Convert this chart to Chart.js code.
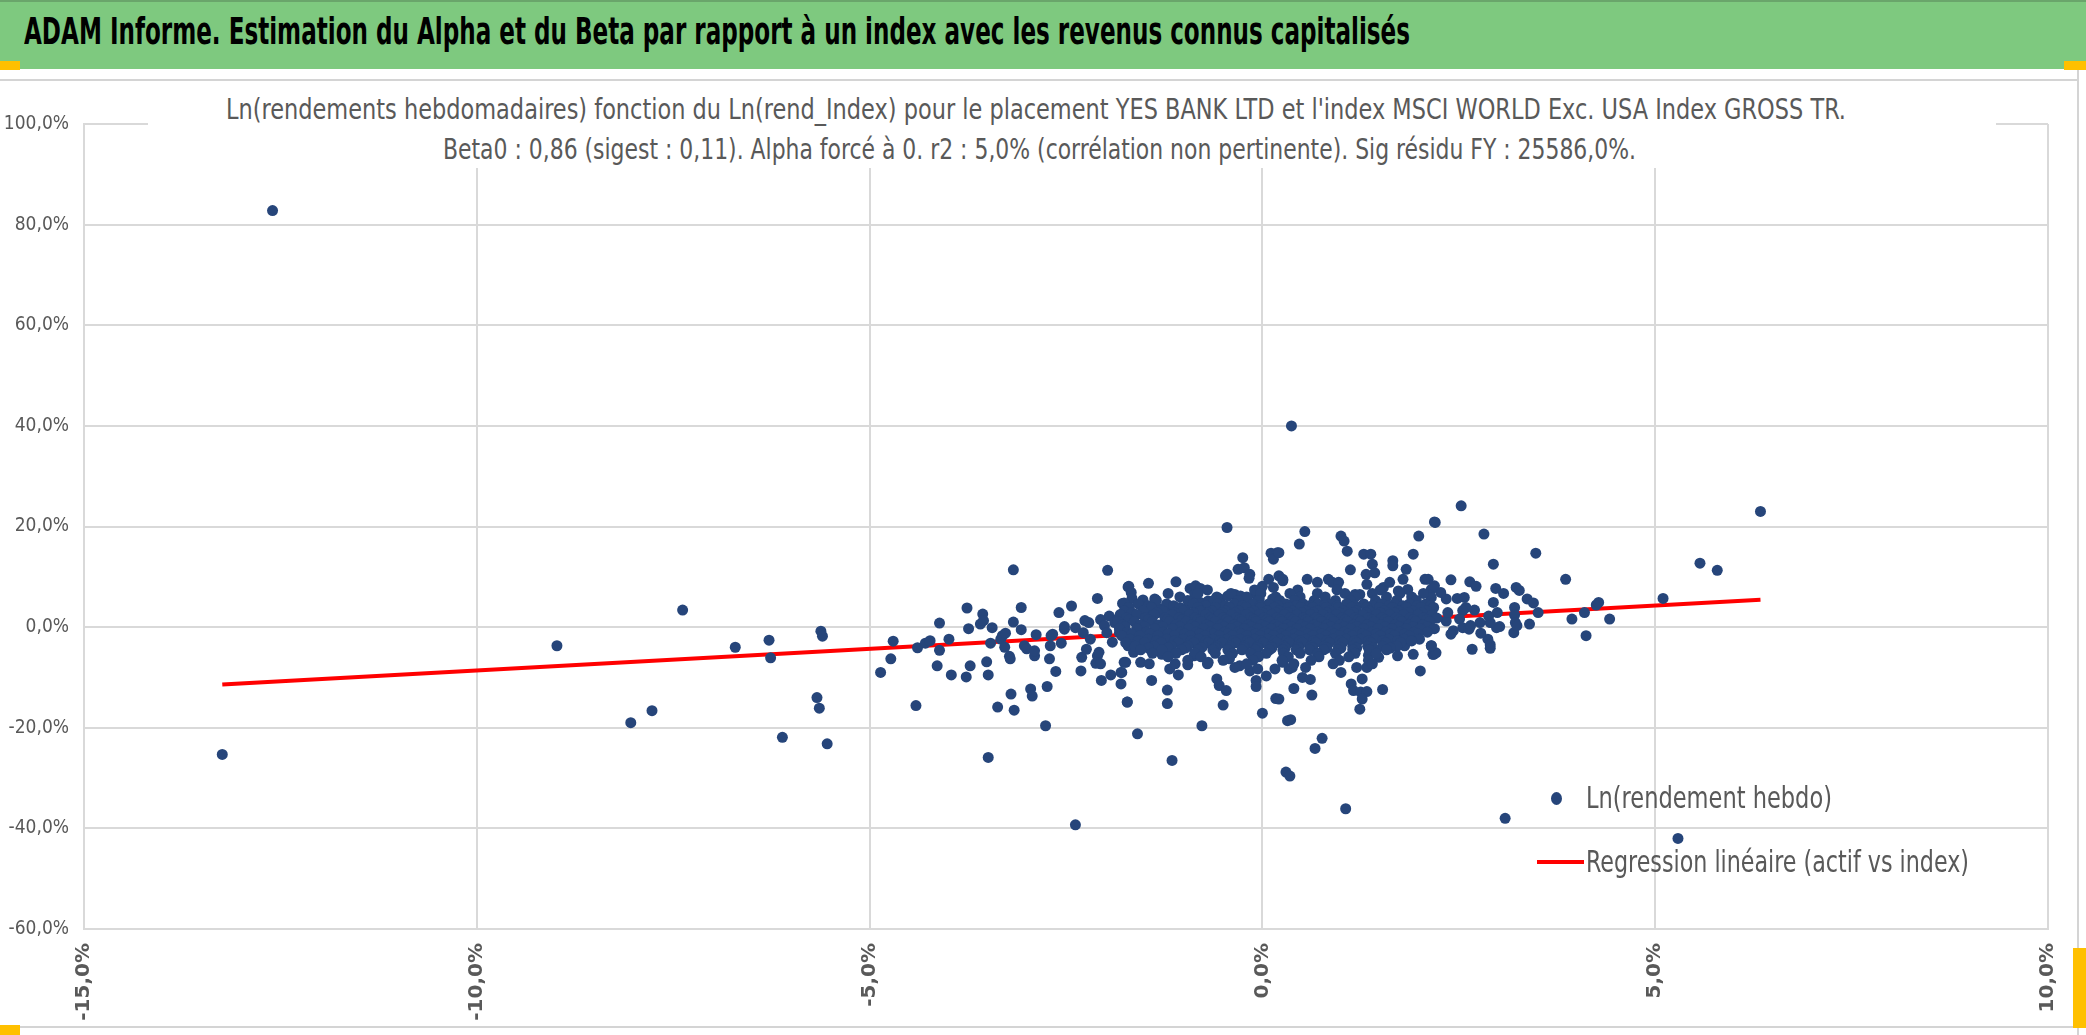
<!DOCTYPE html>
<html lang="fr">
<head>
    <meta charset="UTF-8">
    <title>ADAM Informe - Alpha et Beta</title>
    <script src="https://cdn.jsdelivr.net/npm/chart.js@4.4.1/dist/chart.umd.min.js"></script>
    <style>
        body {
            margin: 0;
            padding: 0;
            background: #fff;
            font-family: 'DejaVu Sans Condensed', 'DejaVu Sans', sans-serif;
        }
        .page {
            position: relative;
            width: 2086px;
            height: 1035px;
            overflow: hidden;
        }
        .header {
            position: absolute;
            left: 0; top: 0;
            width: 2086px; height: 69px;
            background: #7ec97f;
            border-top: 2px solid #6aa56b;
            box-sizing: border-box;
            z-index: 3;
        }
        .header span {
            position: absolute;
            left: 24px; top: 7px;
            font-size: 38px;
            font-weight: bold;
            color: #000;
            white-space: nowrap;
            transform-origin: left center;
        }
        .chart-box {
            position: absolute;
            left: 0; top: 0;
            width: 2086px; height: 1035px;
        }
        .subtitle {
            position: absolute;
            left: 148px; top: 90px;
            width: 1848px; height: 78px;
            background: #fff;
            z-index: 2;
            color: #595959;
            font-size: 29px;
        }
        .subtitle div {
            position: absolute;
            white-space: nowrap;
            transform-origin: left center;
        }
        .legend {
            position: absolute;
            z-index: 2;
            color: #595959;
            font-size: 31px;
        }
        .legend div {
            position: absolute;
            white-space: nowrap;
            transform-origin: left center;
        }
        .line {
            position: absolute;
            background: #d4d4d4;
            z-index: 2;
        }
        .handle {
            position: absolute;
            background: #ffc000;
            z-index: 4;
        }
    </style>
</head>
<body>
<div class="page">
    <div class="header"><span id="mainTitle">ADAM Informe. Estimation du Alpha et du Beta par rapport à un index avec les revenus connus capitalisés</span></div>

    <div class="chart-box"><canvas id="alphaBetaChart"></canvas></div>

    <div class="subtitle">
        <div id="sub1" style="left:78px; top:2px;">Ln(rendements hebdomadaires) fonction du Ln(rend_Index) pour le placement YES BANK LTD et l'index MSCI WORLD Exc. USA Index GROSS TR.</div>
        <div id="sub2" style="left:295px; top:42px;">Beta0 : 0,86 (sigest : 0,11). Alpha forcé à 0. r2 : 5,0% (corrélation non pertinente). Sig résidu FY : 25586,0%.</div>
    </div>

    <div class="legend" style="left:1530px; top:775px; width:500px; height:110px;">
        <span style="position:absolute; left:21px; top:17px; width:11px; height:13px; border-radius:50%; background:#26457a;"></span>
        <div id="leg1" style="left:56px; top:4px;">Ln(rendement hebdo)</div>
        <span style="position:absolute; left:7px; top:85px; width:47px; height:4px; background:#ff0000;"></span>
        <div id="leg2" style="left:56px; top:68px;">Regression linéaire (actif vs index)</div>
    </div>

    <!-- frame of the chart object -->
    <div class="line" style="left:0; top:79px; width:2079px; height:2px;"></div>
    <div class="line" style="left:0; top:1026px; width:2079px; height:2px;"></div>
    <div class="line" style="left:2077px; top:60px; width:2px; height:975px;"></div>
    <div class="handle" style="left:0; top:61px; width:20px; height:9px;"></div>
    <div class="handle" style="left:2064px; top:61px; width:22px; height:9px;"></div>
    <div class="handle" style="left:0; top:1025px; width:20px; height:10px;"></div>
    <div class="handle" style="left:2073px; top:948px; width:13px; height:80px;"></div>
</div>

<script>
    // axis limits (in %)
    const xRange = [-15, 10];
    const yRange = [-60, 100];

    // isolated points far from the cloud [x %, y %]
    const farPoints = [
        [-12.6, 82.8], [-13.24, -25.3], [-8.98, -3.7], [-8.04, -19.0], [-7.77, -16.6],
        [-7.38, 3.4], [-6.71, -4.0], [-6.28, -2.6], [-6.26, -6.1], [-6.11, -21.9],
        [-5.67, -14.0], [-5.64, -16.1], [-5.62, -0.8], [-5.6, -1.8], [-5.54, -23.2],
        [-2.38, -39.3], [0.37, 40.0], [1.06, -36.1], [3.09, -38.0], [5.29, -42.0],
        [6.34, 23.0], [5.57, 12.7], [5.79, 11.3]
    ];

    // left wing of the cloud
    const leftWing = [
        [-4.86, -9.0], [-4.73, -6.3], [-4.70, -2.8], [-4.41, -15.6], [-4.39, -4.1], [-4.29, -3.2],
        [-4.23, -2.7], [-4.14, -7.7], [-4.11, 0.8], [-4.11, -4.6], [-3.99, -2.4], [-3.96, -9.5],
        [-3.77, -9.9], [-3.76, 3.8], [-3.74, -0.3], [-3.72, -7.7], [-3.59, 0.6], [-3.56, 2.6],
        [-3.55, 1.3], [-3.51, -6.9], [-3.49, -9.5], [-3.49, -25.9], [-3.46, -3.2], [-3.44, -0.1],
        [-3.37, -15.9], [-3.33, -2.4], [-3.31, -1.7], [-3.28, -4.0], [-3.27, -1.2], [-3.22, -5.8],
        [-3.21, -6.3], [-3.20, -13.3], [-3.17, 1.0], [-3.17, 11.4], [-3.16, -16.5], [-3.07, 3.9],
        [-3.07, -0.5], [-3.03, -3.7], [-3.00, -4.3], [-2.95, -12.3], [-2.93, -13.7], [-2.90, -5.7],
        [-2.90, -4.7], [-2.88, -1.5], [-2.76, -19.6], [-2.74, -11.8], [-2.71, -6.3], [-2.70, -3.7],
        [-2.69, -1.7], [-2.67, -1.4], [-2.63, -8.8], [-2.59, 2.9], [-2.56, -3.2], [-2.52, -0.4],
        [-2.52, 0.1], [-2.43, 4.2], [-2.38, -0.1], [-2.31, -8.7], [-2.30, -6.0], [-2.28, -1.1],
        [-2.26, 1.3], [-2.24, -4.4], [-2.21, 0.9], [-2.19, -2.4], [-2.12, -7.2], [-2.10, 5.7],
        [-2.10, -5.7], [-2.08, -5.0], [-2.06, -7.3], [-2.06, 1.5], [-2.05, -10.6], [-2.01, 0.3],
        [-1.98, -1.1], [-1.97, 11.3], [-1.95, 2.2], [-1.93, -9.5], [-1.91, -3.0], [-1.88, 0.9],
        [-1.84, 1.6], [-1.82, -1.1], [-1.80, -11.3], [-1.79, -9.0], [-1.78, 4.7], [-1.76, -7.0],
        [-1.74, 1.6], [-1.73, 2.6], [-1.72, -14.9], [-1.71, 8.0], [-1.70, -1.7], [-1.71, -3.7]
    ];

    // upper and lower fringe of the dense cloud
    const cloudFringe = [
        [-0.45, 19.8], [0.11, 14.7], [0.19, 14.8], [0.14, 13.5], [-0.25, 13.8], [-0.31, 11.5],
        [-0.23, 11.8], [-0.16, 10.5], [-0.17, 9.7], [-0.47, 10.2], [-0.45, 10.5], [0.0, 8.1],
        [0.08, 9.5], [0.21, 10.2], [0.26, 9.2], [0.14, 7.9], [-1.70, 8.1], [-1.67, 6.9],
        [-1.66, 5.7], [-1.45, 8.7], [-1.10, 9.0], [-0.92, 7.7], [-0.85, 8.2], [-0.79, 7.7],
        [-0.86, 6.5], [-1.52, 5.4], [-1.37, 5.6], [-1.30, 3.6], [-1.48, 3.2], [-1.76, 4.8],
        [-1.15, 3.9], [-0.98, 3.6], [-0.79, 4.9], [-0.69, 5.2], [-0.54, 5.6], [-0.44, 6.2],
        [-0.35, 6.5], [-0.28, 6.2], [-0.19, 5.9], [-0.08, 6.5], [-0.04, 5.6], [0.13, 5.6],
        [-1.64, -5.0], [-1.55, -7.0], [-1.74, -7.0], [-1.80, -9.0], [-1.72, -14.9], [-1.59, -21.2],
        [-1.41, -10.6], [-1.44, -7.3], [-1.28, -5.4], [-1.21, -12.5], [-1.21, -15.2], [-1.18, -8.3],
        [-1.11, -7.3], [-1.07, -9.5], [-1.15, -26.5], [-0.95, -7.5], [-0.87, -5.7], [-0.77, -19.6],
        [-0.69, -7.0], [-0.58, -10.3], [-0.55, -11.6], [-0.50, -15.5], [-0.46, -12.6], [-0.42, -6.3],
        [-0.29, -7.7], [-0.16, -8.7], [-0.08, -10.6], [-0.08, -11.8], [-0.06, -8.3], [0.0, -17.1],
        [0.05, -9.7], [0.17, -14.2], [0.16, -8.3], [0.32, -18.6], [0.26, -7.0], [0.30, -28.8],
        [2.19, 20.9], [0.54, 19.0], [0.47, 16.5], [1.00, 18.1], [1.04, 17.1], [1.08, 15.1],
        [1.12, 11.4], [1.29, 14.5], [1.38, 14.5], [1.40, 12.5], [1.43, 10.8], [1.32, 10.5],
        [1.33, 8.5], [1.66, 13.2], [1.66, 12.2], [1.83, 11.5], [1.79, 9.5], [1.92, 14.5],
        [1.99, 18.1], [2.07, 9.5], [2.15, 7.5], [0.21, 14.8], [0.26, 9.5], [0.57, 9.5],
        [0.70, 8.9], [0.84, 9.5], [0.89, 8.9], [0.97, 8.9], [1.18, 6.5], [1.24, 6.5],
        [1.54, 7.9], [1.62, 8.9], [1.73, 7.2], [1.85, 7.5],
        [0.34, -8.3], [0.38, -8.0], [0.51, -10.0], [0.61, -10.4], [0.63, -13.5], [0.40, -12.2],
        [0.36, -18.4], [0.21, -14.3], [0.67, -24.1], [0.76, -22.1], [0.35, -29.6], [1.00, -9.0],
        [1.13, -11.3], [1.16, -12.6], [1.25, -12.9], [1.27, -10.3], [1.33, -12.8], [1.27, -14.3],
        [1.24, -16.3], [1.33, -8.0], [1.35, -5.6], [1.53, -12.4], [1.48, -6.0], [1.72, -5.7],
        [1.81, -3.7], [1.92, -5.4], [2.01, -8.7], [2.15, -3.7], [2.18, -5.4]
    ];

    // right wing of the cloud
    const rightWing = [
        [2.20, 20.8], [2.53, 24.1], [2.82, 18.5], [3.48, 14.7], [2.94, 12.5], [3.86, 9.5],
        [2.40, 9.4], [2.64, 9.0], [2.72, 8.1], [2.97, 7.7], [3.07, 6.7], [3.23, 7.9],
        [3.27, 7.3], [3.37, 5.6], [3.45, 4.8], [3.51, 2.9], [3.40, 0.6], [3.21, 3.9],
        [3.21, 2.4], [3.22, 0.9], [3.20, -1.1], [3.24, 0.3], [2.94, 4.9], [2.99, 2.9],
        [3.02, 0.1], [2.98, -0.1], [2.88, 2.2], [2.90, 0.9], [2.87, -2.4], [2.90, -3.5],
        [2.90, -4.2], [2.77, 0.9], [2.78, -1.2], [2.67, -4.4], [2.70, 3.4], [3.94, 1.6],
        [4.10, 2.9], [4.12, -1.7], [4.25, 4.4], [4.28, 4.9], [4.42, 1.6], [5.10, 5.7],
        [2.48, 5.7], [2.57, 5.9], [2.59, 3.9], [2.55, 3.3], [2.51, 1.6], [2.55, -0.1],
        [2.63, -0.4], [2.65, 0.3], [2.43, -0.7], [2.40, -1.4], [2.34, 1.2], [2.36, 2.9],
        [2.34, 5.6], [2.27, 6.9], [2.19, 8.2], [2.15, 5.9], [2.11, 9.5], [2.13, -0.4],
        [2.17, -5.4], [2.21, -5.1], [2.15, -3.7]
    ];

    // dense core of the cloud, read row by row: y level and x positions
    const coreRowY = [7.4, 6.7, 6.0, 5.3, 4.6, 4.25, 3.9, 3.2, 2.85, 2.5, 1.8, 1.45, 1.1, 0.4, 0.05, -0.3, -1.0,
                      -1.35, -1.7, -2.4, -2.75, -3.1, -3.8, -4.15, -4.5, -5.2, -5.9, -6.6, -7.3, -8.0];
    const coreRowX = [
        [-0.7, -0.1, 0.45, 0.95, 1.5],
        [-1.2, -0.82, -0.4, -0.02, 0.35, 0.7, 1.05, 1.4, 1.75, 2.05],
        [-1.05, -0.58, -0.2, 0.17, 0.48, 0.8, 1.18, 1.58, 1.9],
        [-1.35, -0.95, -0.62, -0.31, -0.05, 0.22, 0.41, 0.66, 0.93, 1.12, 1.44, 1.71, 1.96],
        [-1.58, -1.22, -0.88, -0.57, -0.36, -0.12, 0.08, 0.3, 0.52, 0.71, 0.88, 1.07, 1.29, 1.52, 1.68, 1.87, 2.08],
        [-1.45, -1.13, -0.72, -0.47, -0.25, -0.03, 0.2, 0.43, 0.6, 0.79, 0.95, 1.18, 1.4, 1.61, 1.79, 1.97, 2.14],
        [-1.7, -1.41, -1.05, -0.82, -0.6, -0.42, -0.21, -0.02, 0.15, 0.33, 0.49, 0.64, 0.81, 0.97, 1.14, 1.33, 1.49, 1.66, 1.83, 2.02, 2.18],
        [-1.76, -1.52, -1.27, -1.01, -0.79, -0.64, -0.47, -0.3, -0.11, 0.06, 0.21, 0.38, 0.55, 0.7, 0.86, 1.03, 1.2, 1.36, 1.55, 1.73, 1.91, 2.09],
        [-1.66, -1.34, -1.12, -0.88, -0.69, -0.51, -0.35, -0.16, 0.0, 0.17, 0.33, 0.5, 0.65, 0.82, 0.98, 1.16, 1.32, 1.5, 1.68, 1.86, 2.03],
        [-1.81, -1.6, -1.38, -1.15, -0.93, -0.72, -0.55, -0.39, -0.2, -0.04, 0.12, 0.28, 0.44, 0.61, 0.77, 0.94, 1.11, 1.28, 1.45, 1.62, 1.8, 1.98, 2.16],
        [-1.73, -1.49, -1.24, -1.06, -0.86, -0.67, -0.5, -0.33, -0.15, 0.02, 0.18, 0.35, 0.52, 0.68, 0.85, 1.01, 1.18, 1.35, 1.52, 1.7, 1.88, 2.05, 2.22],
        [-1.7, -1.45, -1.21, -1.02, -0.82, -0.64, -0.46, -0.29, -0.11, 0.06, 0.22, 0.39, 0.55, 0.72, 0.88, 1.05, 1.22, 1.39, 1.56, 1.74, 1.92, 2.09],
        [-1.84, -1.63, -1.4, -1.18, -0.97, -0.78, -0.6, -0.43, -0.26, -0.08, 0.09, 0.25, 0.42, 0.58, 0.75, 0.91, 1.08, 1.25, 1.42, 1.6, 1.77, 1.95, 2.13],
        [-1.78, -1.55, -1.32, -1.1, -0.9, -0.71, -0.53, -0.36, -0.18, -0.01, 0.16, 0.32, 0.49, 0.66, 0.82, 0.99, 1.16, 1.33, 1.51, 1.69, 1.86, 2.04],
        [-1.75, -1.5, -1.27, -1.05, -0.86, -0.67, -0.49, -0.32, -0.14, 0.04, 0.2, 0.37, 0.54, 0.7, 0.87, 1.04, 1.2, 1.38, 1.56, 1.74, 1.92, 2.1],
        [-1.82, -1.6, -1.37, -1.14, -0.94, -0.75, -0.57, -0.4, -0.23, -0.06, 0.11, 0.27, 0.44, 0.61, 0.78, 0.95, 1.12, 1.29, 1.47, 1.65, 1.83, 2.01, 2.19],
        [-1.72, -1.48, -1.26, -1.04, -0.84, -0.66, -0.48, -0.31, -0.14, 0.03, 0.2, 0.36, 0.53, 0.7, 0.87, 1.04, 1.21, 1.39, 1.57, 1.75, 1.93, 2.1],
        [-1.66, -1.43, -1.2, -0.99, -0.8, -0.62, -0.44, -0.27, -0.09, 0.08, 0.24, 0.41, 0.58, 0.75, 0.92, 1.09, 1.27, 1.45, 1.63, 1.81, 1.98],
        [-1.79, -1.56, -1.33, -1.12, -0.92, -0.73, -0.55, -0.38, -0.2, -0.03, 0.14, 0.3, 0.47, 0.64, 0.81, 0.98, 1.15, 1.32, 1.5, 1.68, 1.87],
        [-1.68, -1.45, -1.22, -1.01, -0.81, -0.63, -0.45, -0.28, -0.1, 0.07, 0.23, 0.4, 0.56, 0.73, 0.9, 1.07, 1.25, 1.43, 1.61, 1.8, 2.0],
        [-1.58, -1.35, -1.12, -0.91, -0.72, -0.54, -0.37, -0.19, -0.02, 0.15, 0.31, 0.48, 0.65, 0.82, 0.99, 1.17, 1.35, 1.53, 1.72, 1.9],
        [-1.74, -1.5, -1.29, -1.07, -0.87, -0.69, -0.51, -0.34, -0.16, 0.01, 0.18, 0.34, 0.51, 0.68, 0.85, 1.02, 1.2, 1.38, 1.57, 1.76],
        [-1.62, -1.38, -1.16, -0.95, -0.76, -0.58, -0.41, -0.23, -0.06, 0.11, 0.28, 0.45, 0.62, 0.79, 0.97, 1.15, 1.34, 1.53, 1.71],
        [-1.45, -1.2, -0.98, -0.78, -0.6, -0.42, -0.24, -0.06, 0.12, 0.29, 0.46, 0.64, 0.82, 1.0, 1.2, 1.41, 1.63],
        [-1.55, -1.28, -1.03, -0.82, -0.63, -0.44, -0.26, -0.09, 0.09, 0.26, 0.43, 0.6, 0.78, 0.96, 1.15, 1.36, 1.58],
        [-1.4, -1.1, -0.86, -0.6, -0.38, -0.15, 0.05, 0.27, 0.48, 0.7, 0.93, 1.18, 1.45],
        [-1.2, -0.78, -0.42, -0.05, 0.33, 0.72, 1.1],
        [-0.95, -0.5, -0.12, 0.25, 0.62, 0.98, 1.35],
        [-0.7, -0.2, 0.4, 0.9, 1.4],
        [-0.35, 0.55, 1.2]
    ];

    // fitted line (actif vs index), end points as drawn
    const regressionX = [-13.24, 6.34];
    const regressionY = [-11.4, 5.45];

    function fmtPct(v) {
        return v.toFixed(1).replace('.', ',') + '%';
    }

    // stretch text blocks to the width they have in the original
    function fitWidth(id, target) {
        const el = document.getElementById(id);
        const w = el.getBoundingClientRect().width;
        if (w > 0) el.style.transform = 'scaleX(' + (target / w) + ')';
    }

    document.addEventListener('DOMContentLoaded', function () {
        fitWidth('mainTitle', 1386);
        fitWidth('sub1', 1620);
        fitWidth('sub2', 1193);
        fitWidth('leg1', 246);
        fitWidth('leg2', 383);

        const points = [];
        farPoints.concat(leftWing, cloudFringe, rightWing).forEach(p => points.push({x: p[0], y: p[1]}));
        coreRowY.forEach((y, i) => {
            coreRowX[i].forEach(x => points.push({x: x, y: y}));
        });
        const regression = regressionX.map((x, i) => ({x: x, y: regressionY[i]}));

        const ctx = document.getElementById('alphaBetaChart').getContext('2d');
        new Chart(ctx, {
            type: 'scatter',
            data: {
                datasets: [{
                    label: 'Ln(rendement hebdo)',
                    data: points,
                    backgroundColor: '#26457a',
                    borderWidth: 0,
                    pointRadius: 5.5,
                    pointHoverRadius: 5.5
                }, {
                    type: 'line',
                    label: 'Regression linéaire (actif vs index)',
                    data: regression,
                    borderColor: '#ff0000',
                    borderWidth: 4,
                    pointRadius: 0,
                    fill: false
                }]
            },
            options: {
                responsive: true,
                maintainAspectRatio: false,
                animation: false,
                devicePixelRatio: 1,
                layout: {
                    padding: { top: 124, left: 0, right: 20, bottom: 0 }
                },
                plugins: {
                    legend: { display: false },
                    tooltip: { enabled: false }
                },
                scales: {
                    x: {
                        type: 'linear',
                        min: xRange[0],
                        max: xRange[1],
                        afterFit: function (scale) { scale.height = 106; },
                        grid: { color: '#d9d9d9', lineWidth: 2, drawTicks: false },
                        border: { color: '#d9d9d9', width: 2 },
                        ticks: {
                            stepSize: 5,
                            padding: 14,
                            minRotation: 90,
                            maxRotation: 90,
                            color: '#595959',
                            font: { family: "'DejaVu Sans', sans-serif", size: 20, weight: 'bold' },
                            callback: v => fmtPct(v)
                        }
                    },
                    y: {
                        type: 'linear',
                        min: yRange[0],
                        max: yRange[1],
                        afterFit: function (scale) { scale.width = 84; },
                        grid: { color: '#d9d9d9', lineWidth: 2, drawTicks: false },
                        border: { color: '#d9d9d9', width: 2 },
                        ticks: {
                            stepSize: 20,
                            padding: 15,
                            color: '#595959',
                            font: { family: "'DejaVu Sans Condensed', 'DejaVu Sans', sans-serif", size: 19 },
                            callback: v => fmtPct(v)
                        }
                    }
                }
            }
        });
    });
</script>
</body>
</html>
